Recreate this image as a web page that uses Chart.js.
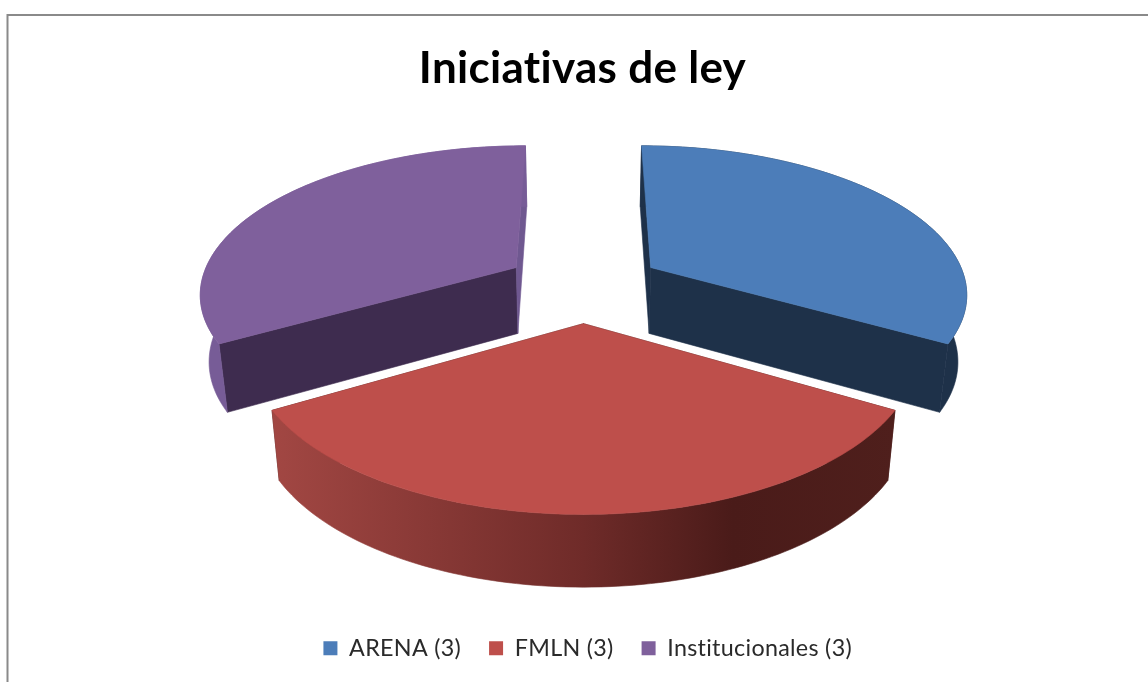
<!DOCTYPE html>
<html>
<head>
<meta charset="utf-8">
<style>html,body{margin:0;padding:0;background:#fff}canvas{display:block}</style>
<script src="https://cdn.jsdelivr.net/npm/chart.js@4"></script>
</head>
<body>
<canvas id="c" width="1148" height="682"></canvas>
<script>
const chartTitle = "Iniciativas de ley";
const categories = ["ARENA (3)", "FMLN (3)", "Institucionales (3)"];
const values = [3, 3, 3];
const faceColors = ["#4C7DB9", "#BE4F4B", "#7F609C"];

// Side-wall shades of each slice
const startWallColors = ["#1E3149", "#4A1C1A", "#3E2C4F"];
const endWallColors = ["#1E3149", "#4A1C1A", "#6F5890"];
const rimColors = ["#1E3149", null, "#775C97"];

const view = {cx: 583.5, cy: 285.5, A: 316.5, B: 146.5, p: 0.16, shrink: 0.977, h0: 66.5, h1: 5};
function project(X, Y, low) {
  const w = 1 - view.p * Y;
  let sx = view.cx + view.A * X / w;
  let sy = view.cy + view.B * Y / w;
  if (low) { sx = view.cx + (sx - view.cx) * view.shrink; sy += view.h0 + view.h1 * Y; }
  return [sx, sy];
}
function poly(ctx, pts, fill) {
  ctx.beginPath();
  pts.forEach((p, i) => i ? ctx.lineTo(p[0], p[1]) : ctx.moveTo(p[0], p[1]));
  ctx.closePath();
  ctx.fillStyle = fill;
  ctx.fill();
  ctx.strokeStyle = fill; ctx.lineWidth = 0.6; ctx.stroke();
}
const pie3d = {
  id: "pie3d",
  beforeDraw(chart) {
    const ctx = chart.ctx;
    ctx.letterSpacing = "0.3px";
    ctx.save();
    ctx.fillStyle = "#fff"; ctx.fillRect(0, 0, chart.width, chart.height);
    ctx.strokeStyle = "#8a8a8a"; ctx.lineWidth = 2;
    ctx.beginPath(); ctx.moveTo(7.5, 682); ctx.lineTo(7.5, 15); ctx.lineTo(1148, 15); ctx.stroke();
    ctx.restore();
  },
  beforeDatasetDraw(chart) {
    const ctx = chart.ctx;
    const arcs = chart.getDatasetMeta(0).data;
    ctx.save();
    [2, 0, 1].forEach(i => {
      const arc = arcs[i];
      const R = arc.outerRadius;
      const a0 = arc.startAngle, a1 = arc.endAngle, mid = (a0 + a1) / 2;
      const e = arc.options.offset / R;
      const ox = Math.cos(mid) * e, oy = Math.sin(mid) * e;
      const pts = [];
      for (let k = 0; k <= 96; k++) {
        const a = a0 + (a1 - a0) * k / 96;
        pts.push([ox + Math.cos(a), oy + Math.sin(a)]);
      }
      const edge = low => pts.map(p => project(p[0], p[1], low));
      const topEdge = edge(false), lowEdge = edge(true);
      const apexT = project(ox, oy, false), apexL = project(ox, oy, true);
      poly(ctx, [apexT, topEdge[0], lowEdge[0], apexL], startWallColors[i]);
      poly(ctx, [apexT, topEdge[96], lowEdge[96], apexL], endWallColors[i]);
      let rim = rimColors[i];
      if (!rim) {
        rim = ctx.createLinearGradient(topEdge[96][0], 0, topEdge[0][0], 0);
        rim.addColorStop(0, "#A24743");
        rim.addColorStop(0.5, "#6F2B29");
        rim.addColorStop(0.74, "#4A1B19");
        rim.addColorStop(1, "#4F1F1C");
      }
      poly(ctx, topEdge.concat(lowEdge.slice().reverse()), rim);
      poly(ctx, [apexT].concat(topEdge), arc.options.backgroundColor);
    });
    ctx.restore();
    return false;
  }
};
new Chart(document.getElementById("c"), {
  type: "pie",
  data: {
    labels: categories,
    datasets: [{
      data: values,
      backgroundColor: faceColors,
      borderWidth: 0,
      offset: 50,
      radius: 200
    }]
  },
  options: {
    responsive: false,
    animation: false,
    layout: {padding: {top: 0, bottom: 12, left: 17}},
    plugins: {
      tooltip: {enabled: false},
      title: {
        display: true,
        text: chartTitle,
        color: "#000",
        font: {family: "Lato", size: 44, weight: "bold"},
        padding: {top: 42, bottom: 10}
      },
      legend: {
        position: "bottom",
        labels: {
          color: "#2a2a2a",
          font: {family: "Lato", size: 23.3},
          boxWidth: 14, boxHeight: 14, padding: 28
        }
      }
    }
  },
  plugins: [pie3d]
});
</script>
</body>
</html>
